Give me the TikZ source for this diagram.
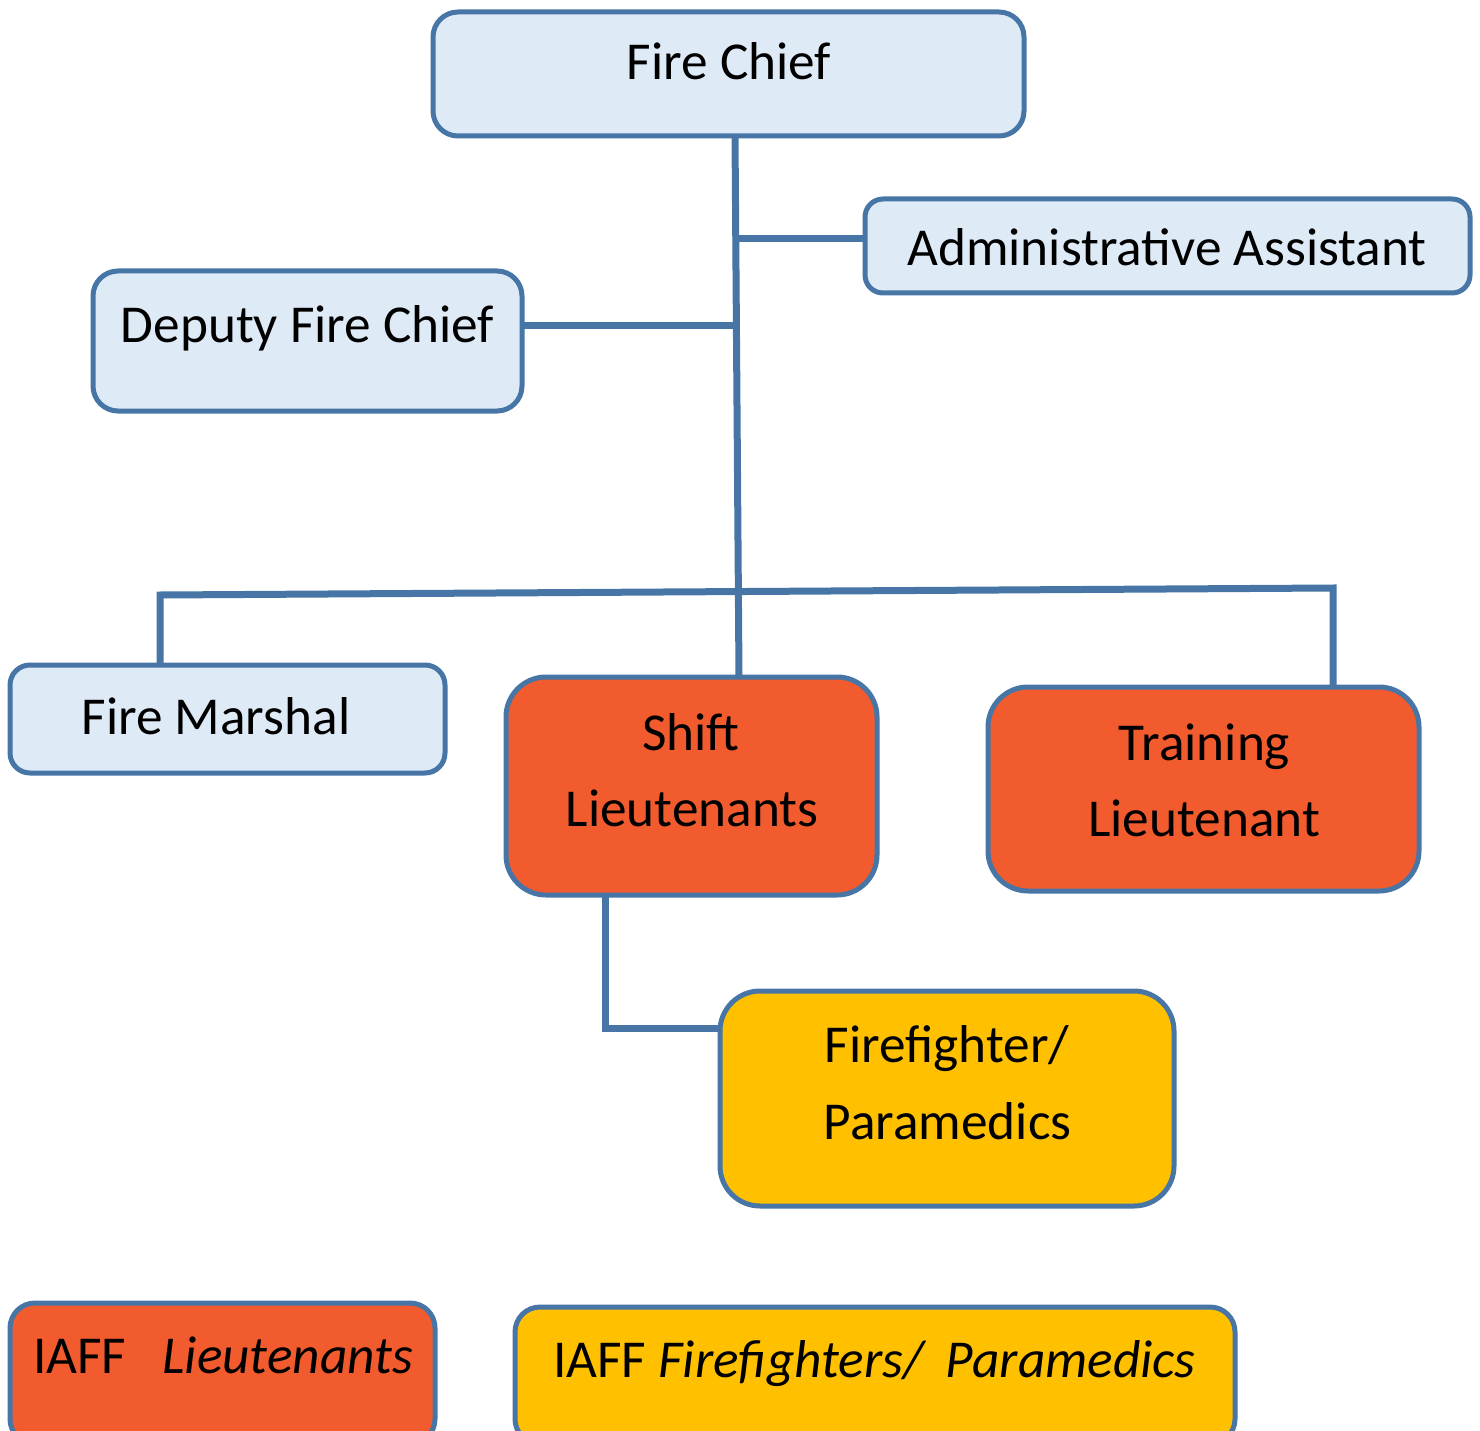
\documentclass[tikz,border=0pt]{standalone}
\usepackage{fontspec}
\setmainfont{Carlito}
\definecolor{bordc}{RGB}{70,117,166}
\definecolor{lightc}{RGB}{222,234,246}
\definecolor{orangec}{RGB}{241,91,46}
\definecolor{yellowc}{RGB}{255,192,0}
\begin{document}
\begin{tikzpicture}[x=1pt,y=-1pt,
  box/.style={draw=bordc, line width=5pt, rounded corners=#1, inner sep=0pt, outer sep=0pt},
  box/.default=25pt,
  conn/.style={draw=bordc, line width=7pt, line join=miter},
  txt/.style={inner sep=0pt, anchor=base, font=\fontsize{53.3}{64}\selectfont}]
\useasboundingbox (0,0) rectangle (1480,1431);
% boxes
\node[box=25pt, fill=lightc, minimum width=591pt, minimum height=124pt] (chief) at (728.5,74) {};
\node[box=18pt, fill=lightc, minimum width=605pt, minimum height=94pt] (admin) at (1167.5,246) {};
\node[box=25pt, fill=lightc, minimum width=429pt, minimum height=140pt] (deputy) at (307.5,341) {};
\node[box=20pt, fill=lightc, minimum width=435pt, minimum height=108pt] (marshal) at (227.5,719) {};
\node[box=40pt, fill=orangec, minimum width=371pt, minimum height=218pt] (shift) at (691.5,786) {};
\node[box=40pt, fill=orangec, minimum width=431pt, minimum height=204pt] (training) at (1203.5,789) {};
\node[box=40pt, fill=yellowc, minimum width=454pt, minimum height=215pt] (ffp) at (947,1098.5) {};
\node[box=25pt, fill=orangec, minimum width=425pt, minimum height=141pt] (leg1) at (222.5,1373.5) {};
\node[box=25pt, fill=yellowc, minimum width=720pt, minimum height=137pt] (leg2) at (875,1375.5) {};
% connector points
\coordinate (cA) at (735,0);
\coordinate (cB) at (739,0);
\coordinate (j1) at (736,239);
\coordinate (j2) at (735,325);
\coordinate (bL) at (160,595);
\coordinate (bR) at (1333,588);
\coordinate (s1) at (605,1028);
% connectors
\draw[conn] (chief.south -| cA) -- (shift.north -| cB);
\draw[conn] (j1) -- (j1 -| admin.west);
\draw[conn] (j2) -- (j2 -| deputy.east);
\draw[conn] (marshal.north -| bL) -- (bL) -- (bR) -- (training.north -| bR);
\draw[conn] (shift.south -| s1) -- (s1) -- (s1 -| ffp.west);
% texts
\node[txt] (tchief) at (729,80) {Fire Chief};
\node[txt] (tadmin) at (1167,266) {Administrative Assistant};
\node[txt] (tdeputy) at (307.5,342) {Deputy Fire Chief};
\node[txt] (tmarshal) at (216,734) {Fire Marshal};
\node[txt] (tshiftA) at (691,750) {Shift};
\node[txt] (tshiftB) at (692,826) {Lieutenants};
\node[txt] (ttrainA) at (1204.5,760) {Training};
\node[txt] (ttrainB) at (1204,836) {Lieutenant};
\node[txt] (tffpA) at (947,1062) {Firefighter/};
\node[txt] (tffpB) at (947.5,1139) {Paramedics};
\node[txt, anchor=base west] (tleg1) at (33,1373) {IAFF\hspace{36pt}\textit{Lieutenants}};
\node[txt, anchor=base west] (tleg2) at (553,1377) {IAFF \textit{Firefighters/\hspace{22pt}Paramedics}};
\end{tikzpicture}
\end{document}
